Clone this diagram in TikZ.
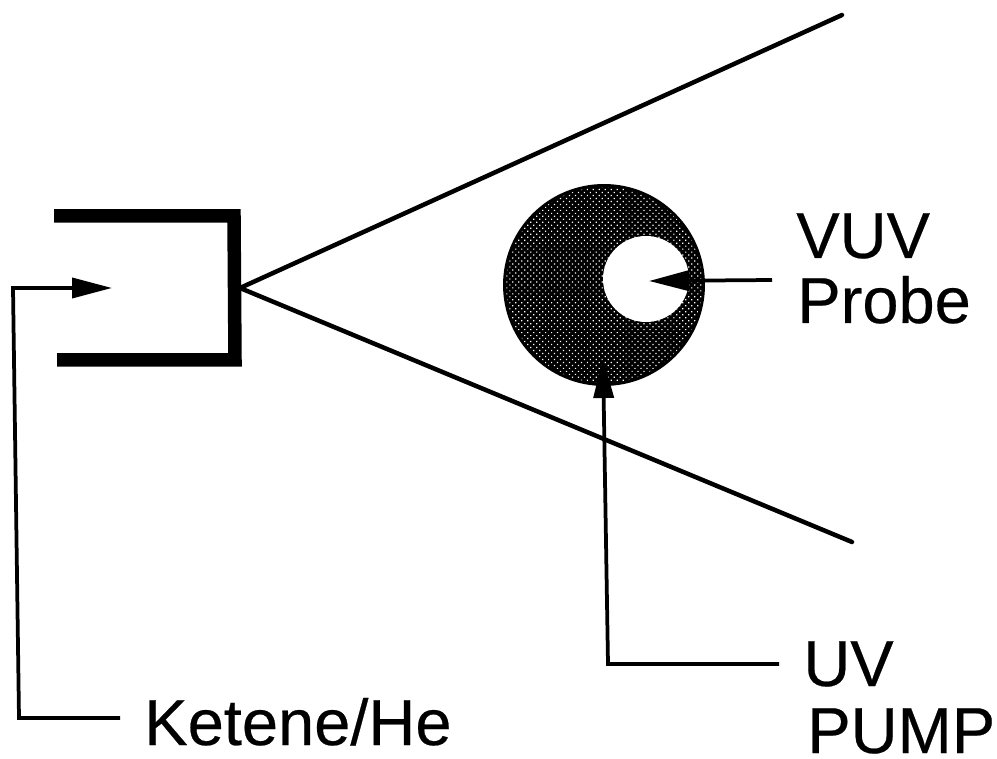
\documentclass[tikz,border=0pt]{standalone}
\usepackage{fontspec}
\setmainfont{Liberation Sans}[FakeBold=0.35]
\usetikzlibrary{arrows.meta, patterns.meta}

\begin{document}
\begin{tikzpicture}[
    x=0.02cm, y=-0.02cm,
    nozzle/.style={line width=0.27cm, miter limit=10},
    jet/.style={line width=0.09cm, line cap=round},
    beam/.style={line width=0.075cm, -{Triangle[length=0.8cm, width=0.4cm]}},
    caption/.style={anchor=base west, inner sep=0pt, font=\fontsize{37}{40}\selectfont}
]
\useasboundingbox (0,0) rectangle (997,759);

% pumped spot and probed hole
\node[circle, draw=black, line width=0.04cm, minimum size=4.0cm, inner sep=0pt, fill=black] (spot) at (604,285) {};
\fill[pattern={Dots[distance=2.4pt, radius=0.48pt, angle=45]}, pattern color=white] (spot.center) circle (98);
\node[circle, fill=white, minimum size=1.72cm, inner sep=0pt] (hole) at (646,279) {};

% source
\coordinate (apex) at (240,288);
\coordinate (jet top) at (842,15);
\coordinate (jet bottom) at (852,542);
\draw[nozzle] (54,216) -- (234,216) -- (235,360) -- (57,360);
\draw[jet] (jet top) -- (apex) -- (jet bottom);

% labels
\node[caption] (ketene) at (144,745) {Ketene/He};
\node[caption] (vuv) at (796,258) {VUV};
\node[caption] (probe) at (797,323) {Probe};
\node[caption] (uv) at (803,686) {UV};
\node[caption] (pump) at (807,753) {PUMP};

\coordinate (gas end) at (120,718);
\coordinate (gas bend) at (19,718);
\coordinate (gas corner) at (13,288);
\coordinate (gas tip) at (112,288);
\coordinate (vuv end) at (772,280);
\coordinate (vuv tip) at (649,281);
\coordinate (uv bend) at (608,662);
\coordinate (uv tip) at (603,358);

\draw[beam] (gas end) -- (gas bend) -- (gas corner) -- (gas tip);
\draw[beam] (vuv end) -- (vuv tip);
\draw[beam, shorten <=0.48cm] (uv.west) -- (uv bend |- uv.west) -- (uv tip);
\end{tikzpicture}
\end{document}
